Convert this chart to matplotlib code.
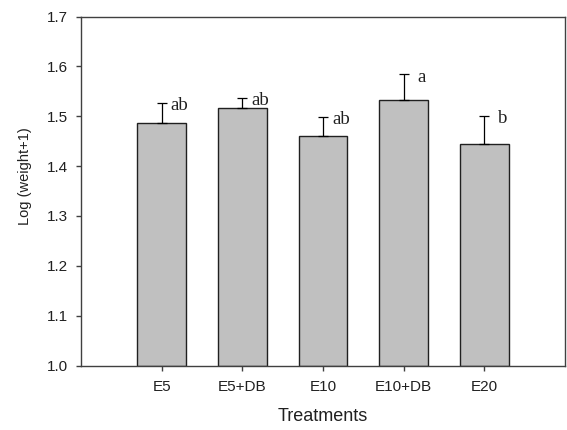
import matplotlib
matplotlib.use("Agg")
import matplotlib.pyplot as plt
import numpy as np

# data
treatments = ["E5", "E5+DB", "E10", "E10+DB", "E20"]
means = [1.487, 1.517, 1.461, 1.532, 1.444]
errors = [0.040, 0.020, 0.038, 0.052, 0.057]
letters = ["ab", "ab", "ab", "a", "b"]

plt.rcParams['font.family'] = ['Liberation Sans', 'DejaVu Sans']

fig = plt.figure(figsize=(5.67, 4.30), dpi=100)
ax = fig.add_axes([0.1429, 0.150, 0.8536, 0.8116])

x = np.arange(len(treatments))
ax.bar(x, np.array(means) - 1.0, bottom=1.0, width=0.6, color='#c0c0c0',
       edgecolor='#202020', linewidth=1.0, zorder=2)
ax.errorbar(x, means, yerr=[np.zeros(len(errors)), errors], fmt='none',
            ecolor='black', elinewidth=0.9, capsize=3.3, capthick=0.9, zorder=3)

# significance letters beside the error bars
for xi, m, e, lab in zip(x, means, errors, letters):
    ax.annotate(lab, xy=(xi, m + e), xytext=(13, -2), textcoords='offset points',
                ha='center', va='center', fontsize=13.5, family='Liberation Serif',
                color='#202020')

ax.set_xlim(-1, 5)
ax.set_ylim(1.0, 1.7)
ax.set_xticks(x)
ax.set_xticklabels(treatments)
ax.set_yticks(np.arange(1.0, 1.71, 0.1))
ax.set_yticklabels(["%.1f" % v for v in np.arange(1.0, 1.71, 0.1)])

for s in ax.spines.values():
    s.set_color('#404040')
    s.set_linewidth(1.0)
ax.tick_params(axis='both', direction='out', length=3.6, width=1.0, color='#404040',
               labelsize=11, labelcolor='#202020')
ax.tick_params(axis='y', pad=6)
ax.tick_params(axis='x', pad=7)

ax.set_xlabel("Treatments", fontsize=13, color='#202020', labelpad=10)
ax.set_ylabel("Log (weight+1)", fontsize=10.5, color='#202020')
ax.yaxis.set_label_coords(-0.116, 0.5415)
ax.yaxis.label.set_verticalalignment('center')

fig.savefig("out.png", dpi=100)
